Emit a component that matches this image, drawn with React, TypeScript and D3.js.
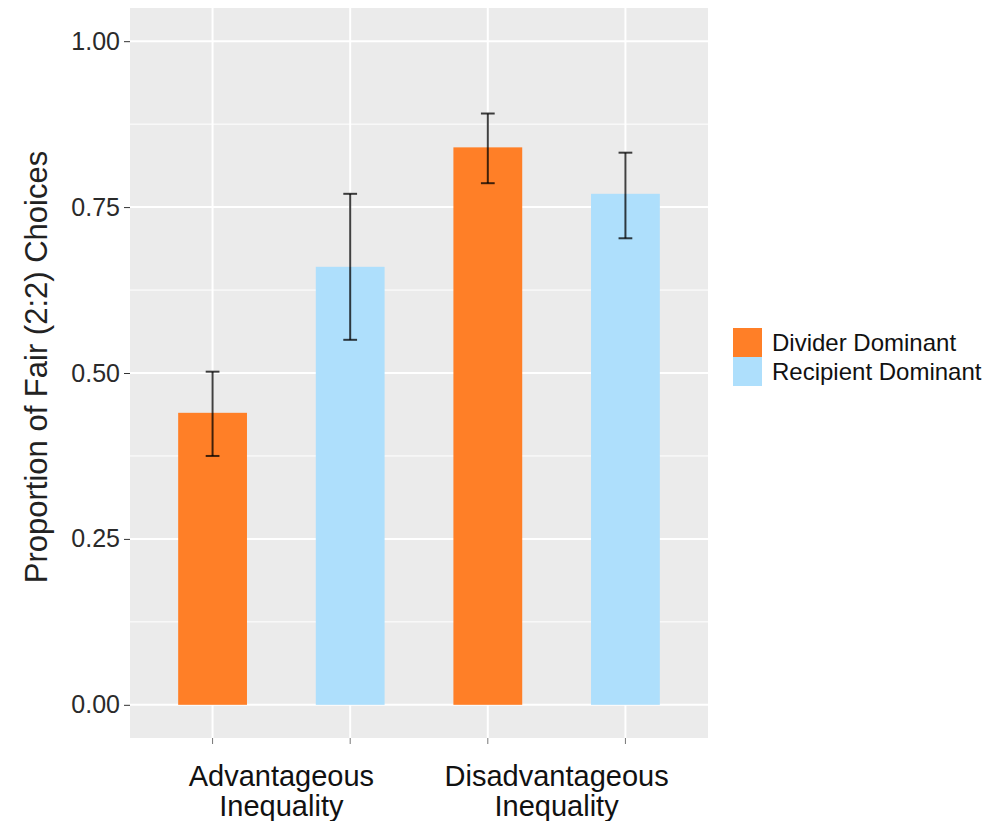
import React, { useEffect, useRef } from "react";
import * as d3 from "d3";

const conditions = ["Advantageous Inequality", "Disadvantageous Inequality"];
const groups = ["Divider Dominant", "Recipient Dominant"];
const groupColors = ["#FF7F27", "#AEDFFC"];
// one value per bar: cond1/divider, cond1/recipient, cond2/divider, cond2/recipient
const proportions = [0.44, 0.66, 0.84, 0.77];
const lowerCI = [0.375, 0.55, 0.786, 0.703];
const upperCI = [0.502, 0.77, 0.891, 0.832];
const yTicks = [0, 0.25, 0.5, 0.75, 1];
const yMinorTicks = [0.125, 0.375, 0.625, 0.875];

export default function App() {
  const svgRef = useRef<SVGSVGElement>(null);
  const width = 989;
  const height = 821;
  const panel = { left: 130, right: 708, top: 8, bottom: 738 };
  const font = "'Liberation Sans', Arial, sans-serif";

  useEffect(() => {
    const svg = d3.select(svgRef.current);
    svg.selectAll("*").remove();

    const bars = proportions.map((p, i) => ({
      pos: i + 1,
      value: p,
      lo: lowerCI[i],
      hi: upperCI[i],
      group: i % 2,
    }));

    const x = d3.scaleLinear().domain([0.4, 4.6]).range([panel.left, panel.right]);
    const y = d3.scaleLinear().domain([-0.05, 1.05]).range([panel.bottom, panel.top]);

    // panel background
    svg
      .append("rect")
      .attr("x", panel.left)
      .attr("y", panel.top)
      .attr("width", panel.right - panel.left)
      .attr("height", panel.bottom - panel.top)
      .attr("fill", "#EBEBEB");

    // grid
    svg
      .selectAll("line.minor")
      .data(yMinorTicks)
      .enter()
      .append("line")
      .attr("x1", panel.left)
      .attr("x2", panel.right)
      .attr("y1", (d) => y(d))
      .attr("y2", (d) => y(d))
      .attr("stroke", "white")
      .attr("stroke-width", 1);

    svg
      .selectAll("line.major")
      .data(yTicks)
      .enter()
      .append("line")
      .attr("x1", panel.left)
      .attr("x2", panel.right)
      .attr("y1", (d) => y(d))
      .attr("y2", (d) => y(d))
      .attr("stroke", "white")
      .attr("stroke-width", 2);

    svg
      .selectAll("line.vmajor")
      .data(bars)
      .enter()
      .append("line")
      .attr("x1", (d) => x(d.pos))
      .attr("x2", (d) => x(d.pos))
      .attr("y1", panel.top)
      .attr("y2", panel.bottom)
      .attr("stroke", "white")
      .attr("stroke-width", 2);

    // bars
    const barW = x(1.5) - x(1);
    svg
      .selectAll("rect.bar")
      .data(bars)
      .enter()
      .append("rect")
      .attr("x", (d) => x(d.pos) - barW / 2)
      .attr("y", (d) => y(d.value))
      .attr("width", barW)
      .attr("height", (d) => y(0) - y(d.value))
      .attr("fill", (d) => groupColors[d.group]);

    // error bars
    const capW = x(1.05) - x(1);
    const err = svg
      .append("g")
      .attr("stroke", "black")
      .attr("stroke-opacity", 0.75)
      .attr("stroke-width", 2);
    bars.forEach((d) => {
      err.append("line").attr("x1", x(d.pos)).attr("x2", x(d.pos)).attr("y1", y(d.lo)).attr("y2", y(d.hi));
      [d.lo, d.hi].forEach((v) => {
        err
          .append("line")
          .attr("x1", x(d.pos) - capW)
          .attr("x2", x(d.pos) + capW)
          .attr("y1", y(v))
          .attr("y2", y(v));
      });
    });

    // y axis
    const yAxis = d3
      .axisLeft(y)
      .tickValues(yTicks)
      .tickFormat(d3.format(".2f"))
      .tickSize(6)
      .tickPadding(4);
    const gy = svg.append("g").attr("transform", `translate(${panel.left}, 0)`).call(yAxis);
    gy.select(".domain").remove();
    gy.selectAll("line").attr("stroke", "#333");
    gy.selectAll("text")
      .attr("fill", "#2a2a2a")
      .style("font-family", font)
      .style("font-size", "25px");

    // x ticks
    svg
      .selectAll("line.xtick")
      .data(bars)
      .enter()
      .append("line")
      .attr("x1", (d) => x(d.pos))
      .attr("x2", (d) => x(d.pos))
      .attr("y1", panel.bottom)
      .attr("y2", panel.bottom + 6)
      .attr("stroke", "#777");

    // x category labels, centred between each pair of bars
    conditions.forEach((c, i) => {
      const cx = x(i * 2 + 1.5);
      const words = c.split(" ");
      const t = svg
        .append("text")
        .attr("text-anchor", "middle")
        .attr("fill", "#111")
        .style("font-family", font)
        .style("font-size", "29px");
      words.forEach((w, k) => {
        t.append("tspan").attr("x", cx).attr("y", 786 + k * 30).text(w);
      });
    });

    // y title
    svg
      .append("text")
      .attr("transform", `translate(47, ${(y(0) + y(1)) / 2 - 6}) rotate(-90)`)
      .attr("text-anchor", "middle")
      .attr("fill", "#222")
      .style("font-family", font)
      .style("font-size", "31px")
      .text("Proportion of Fair (2:2) Choices");

    // legend
    const legend = svg.append("g").attr("transform", "translate(733, 328)");
    groups.forEach((g, i) => {
      legend
        .append("rect")
        .attr("x", 0)
        .attr("y", i * 29)
        .attr("width", 29)
        .attr("height", 29)
        .attr("fill", groupColors[i]);
      legend
        .append("text")
        .attr("x", 39)
        .attr("y", i * 29 + 14.5)
        .attr("dy", "0.35em")
        .attr("fill", "#111")
        .style("font-family", font)
        .style("font-size", "24px")
        .text(g);
    });
  }, []);

  return (
    <svg
      ref={svgRef}
      width={width}
      height={height}
      style={{ position: "absolute", left: 0, top: 0, background: "white" }}
    ></svg>
  );
}
